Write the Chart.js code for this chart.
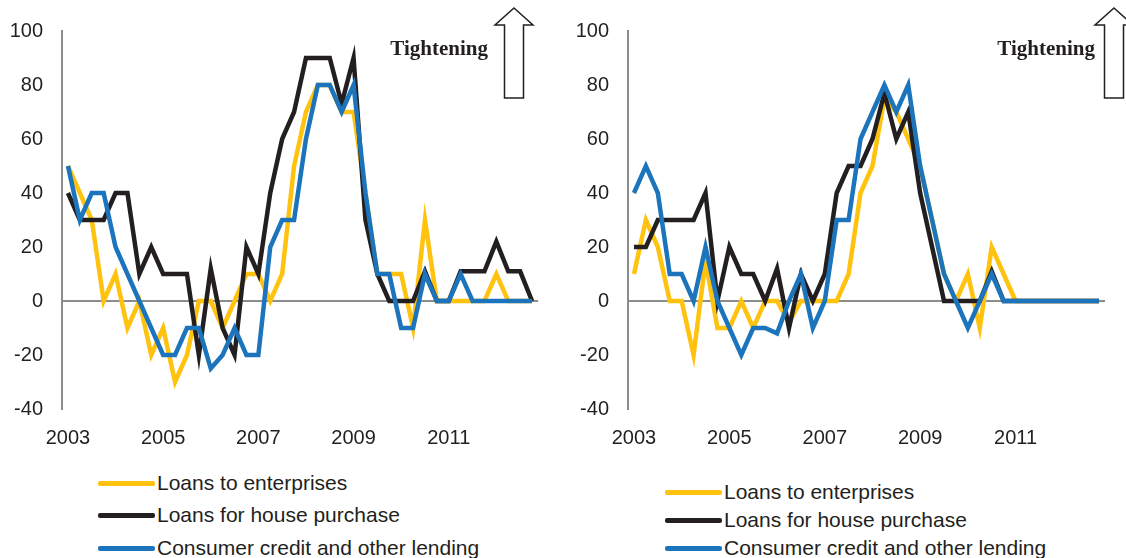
<!DOCTYPE html>
<html>
<head>
<meta charset="utf-8">
<script src="https://cdn.jsdelivr.net/npm/chart.js@4.4.1/dist/chart.umd.min.js"></script>
<style>
    body { margin: 0; background: #fff; width: 1126px; height: 558px; overflow: hidden; position: relative;
           font-family: "Liberation Sans", Arial, sans-serif; color: #231f20; }
    canvas { position: absolute; top: 0; }
    #leftChart { left: 0; }
    #rightChart { left: 566px; }
    .item { position: absolute; height: 24px; line-height: 24px; font-size: 21px; white-space: nowrap; display: flex; align-items: center; }
    .sw { display: inline-block; width: 57px; height: 5px; margin-right: 2px; border-radius: 2px; }
</style>
</head>
<body>
<canvas id="leftChart" width="560" height="460"></canvas>
<canvas id="rightChart" width="560" height="460"></canvas>

<div class="item" style="left:98px; top:471px;"><span class="sw" style="background:#FFC20E"></span>Loans to enterprises</div>
<div class="item" style="left:98px; top:503px;"><span class="sw" style="background:#231F20"></span>Loans for house purchase</div>
<div class="item" style="left:98px; top:536px;"><span class="sw" style="background:#1C75BC"></span>Consumer credit and other lending</div>

<div class="item" style="left:665px; top:480px;"><span class="sw" style="background:#FFC20E"></span>Loans to enterprises</div>
<div class="item" style="left:665px; top:508px;"><span class="sw" style="background:#231F20"></span>Loans for house purchase</div>
<div class="item" style="left:665px; top:536px;"><span class="sw" style="background:#1C75BC"></span>Consumer credit and other lending</div>

<script>
// quarterly categories 2003 Q1 .. 2012 Q4
var years = ['2003', '2004', '2005', '2006', '2007', '2008', '2009', '2010', '2011', '2012'];
var quarters = [];
years.forEach(function(y) {
    ['Q1', 'Q2', 'Q3', 'Q4'].forEach(function(q) { quarters.push(y + q); });
});
var yearTicks = ['2003', '2005', '2007', '2009', '2011'];

// left panel
var enterprisesLeft = [50, 40, 30, 0, 10, -10, 0, -20, -10, -30, -20, 0, 0, -10, 0, 10, 10, 0, 10, 50,
                       70, 80, 80, 70, 70, 40, 10, 10, 10, -10, 30, 0, 0, 0, 0, 0, 10, 0, 0, 0];
var housingLeft = [40, 30, 30, 30, 40, 40, 10, 20, 10, 10, 10, -20, 12, -10, -20, 20, 10, 40, 60, 70,
                   90, 90, 90, 73, 90, 30, 10, 0, 0, 0, 11, 0, 0, 11, 11, 11, 22, 11, 11, 0];
var consumerLeft = [50, 30, 40, 40, 20, 10, 0, -10, -20, -20, -10, -10, -25, -20, -10, -20, -20, 20, 30, 30,
                    60, 80, 80, 70, 80, 40, 10, 10, -10, -10, 10, 0, 0, 10, 0, 0, 0, 0, 0, 0];

// right panel
var enterprisesRight = [10, 30, 20, 0, 0, -20, 15, -10, -10, 0, -10, 0, 0, -8, 0, 0, 0, 0, 10, 40,
                        50, 75, 70, 60, 50, 30, 10, 0, 10, -10, 20, 10, 0, 0, 0, 0, 0, 0, 0, 0];
var housingRight = [20, 20, 30, 30, 30, 30, 40, 0, 20, 10, 10, 0, 12, -10, 10, 0, 10, 40, 50, 50,
                    60, 77, 60, 70, 40, 20, 0, 0, 0, 0, 11, 0, 0, 0, 0, 0, 0, 0, 0, 0];
var consumerRight = [40, 50, 40, 10, 10, 0, 20, 0, -10, -20, -10, -10, -12, 0, 10, -10, 0, 30, 30, 60,
                     70, 80, 70, 80, 50, 30, 10, 0, -10, 0, 10, 0, 0, 0, 0, 0, 0, 0, 0, 0];

var seriesNames = ['Loans to enterprises', 'Loans for house purchase', 'Consumer credit and other lending'];
var seriesColors = ['#FFC20E', '#231F20', '#1C75BC'];

var tickFont = { family: '"Liberation Sans", Arial, sans-serif', size: 20 };
var inkColor = '#231f20';
var axisGray = '#8c8c8c';

// "Tightening" label with outlined up arrow
var tighteningPlugin = {
    id: 'tightening',
    afterDraw: function(chart, args, opts) {
        var ctx = chart.ctx;
        var right = chart.chartArea.right;
        ctx.save();
        ctx.font = 'bold 21px "Liberation Serif", "Times New Roman", serif';
        ctx.fillStyle = inkColor;
        ctx.textAlign = 'right';
        ctx.textBaseline = 'alphabetic';
        ctx.fillText('Tightening', right + opts.textOffset, 55);

        var x = right + opts.arrowOffset;
        ctx.beginPath();
        ctx.moveTo(x, 8);
        ctx.lineTo(x + 19, 25);
        ctx.lineTo(x + 9.5, 25);
        ctx.lineTo(x + 9.5, 98);
        ctx.lineTo(x - 9.5, 98);
        ctx.lineTo(x - 9.5, 25);
        ctx.lineTo(x - 19, 25);
        ctx.closePath();
        ctx.lineWidth = 1.5;
        ctx.strokeStyle = inkColor;
        ctx.stroke();
        ctx.restore();
    }
};

function makeChart(id, values, padRight, textOffset, arrowOffset) {
    var datasets = values.map(function(v, i) {
        return {
            label: seriesNames[i],
            data: v,
            borderColor: seriesColors[i],
            backgroundColor: seriesColors[i],
            borderWidth: 4.5,
            pointRadius: 0,
            tension: 0,
            fill: false,
            order: 2 - i
        };
    });

    return new Chart(document.getElementById(id).getContext('2d'), {
        type: 'line',
        data: { labels: quarters, datasets: datasets },
        options: {
            responsive: false,
            animation: false,
            devicePixelRatio: 1,
            layout: { padding: { top: 27, right: padRight, bottom: 0, left: 0 } },
            plugins: {
                legend: { display: false },
                tooltip: { enabled: false },
                tightening: { textOffset: textOffset, arrowOffset: arrowOffset }
            },
            scales: {
                x: {
                    type: 'category',
                    offset: true,
                    grid: { display: false, drawTicks: false },
                    border: { display: false },
                    ticks: {
                        autoSkip: false,
                        maxRotation: 0,
                        padding: 17,
                        font: tickFont,
                        color: inkColor,
                        callback: function(value, index) {
                            var q = quarters[index];
                            var y = q.slice(0, 4);
                            return (q.slice(4) === 'Q1' && yearTicks.indexOf(y) >= 0) ? y : '';
                        }
                    },
                    afterFit: function(scale) { scale.height = 51; }
                },
                y: {
                    min: -40,
                    max: 100,
                    ticks: { stepSize: 20, padding: 19, font: tickFont, color: inkColor },
                    grid: {
                        drawTicks: false,
                        lineWidth: 2,
                        color: function(ctx) {
                            return ctx.tick && ctx.tick.value === 0 ? axisGray : 'rgba(0,0,0,0)';
                        }
                    },
                    border: { display: true, color: axisGray, width: 2 },
                    afterFit: function(scale) { scale.width = 62; }
                }
            }
        },
        plugins: [tighteningPlugin]
    });
}

makeChart('leftChart', [enterprisesLeft, housingLeft, consumerLeft], 22, -50, -24);
makeChart('rightChart', [enterprisesRight, housingRight, consumerRight], 21, -10, 9);
</script>
</body>
</html>
